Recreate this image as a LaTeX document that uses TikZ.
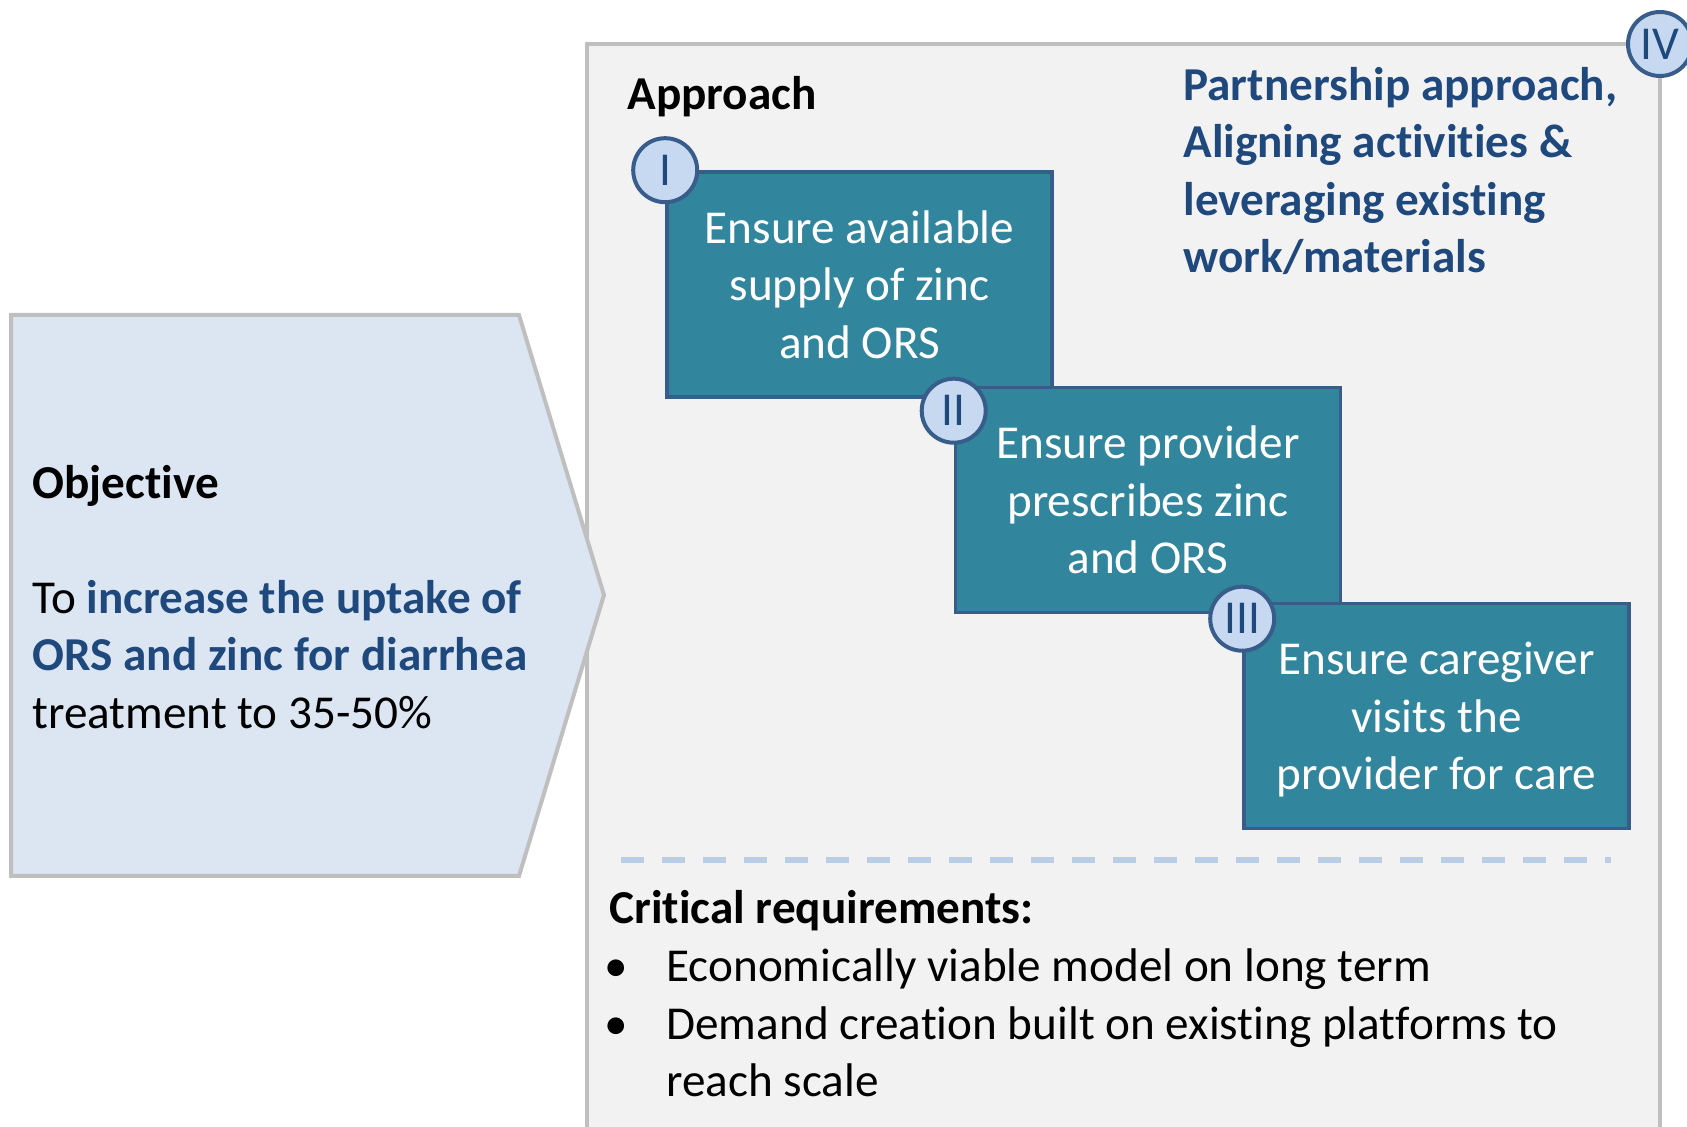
\documentclass[tikz,border=0pt]{standalone}
\usepackage{fontspec}
\setmainfont{Carlito}[Ligatures=NoCommon]
\usepackage{tikz}
\usetikzlibrary{positioning}
\definecolor{panelgray}{HTML}{F2F2F2}
\definecolor{framegray}{HTML}{BFBFBF}
\definecolor{goalfill}{HTML}{DCE6F2}
\definecolor{boxteal}{HTML}{31859C}
\definecolor{boxline}{HTML}{385D8A}
\definecolor{discfill}{HTML}{C6D9F1}
\definecolor{navytext}{HTML}{1F497D}
\definecolor{dashblue}{HTML}{B9CDE5}

\begin{document}
\begin{tikzpicture}[
  x=0.5pt, y=-0.5pt,
  font=\fontsize{23.6}{28.8}\selectfont,
  frame/.style={draw=framegray, line width=2pt},
  stepbox/.style={draw=boxline, line width=1.8pt, fill=boxteal, text=white, align=center,
    minimum width=192.5pt, minimum height=112.5pt, inner sep=0pt, text depth=0pt},
  numdisc/.style={circle, draw=boxline, line width=2pt, fill=discfill, text=navytext,
    minimum size=32pt, inner sep=0pt},
  plain/.style={inner sep=0pt, align=left}
]
\useasboundingbox (0,0) rectangle (1687,1127);

% approach panel, then the objective arrow over its left edge
\draw[frame, fill=panelgray] (587,44) rectangle (1660,1160);
\draw[frame, fill=goalfill] (11,315) -- (519,315) -- (604,595) -- (519,876) -- (11,876) -- cycle;

\node[plain, anchor=west] (goal) at (32,597) {\textbf{Objective}\\[28.8pt]
  To \textcolor{navytext}{\textbf{increase the uptake of}}\\
  \textcolor{navytext}{\textbf{ORS and zinc for diarrhea}}\\
  treatment to 35-50\%};

\node[plain, anchor=west] (approach) at (627,97) {\textbf{Approach}};
\node[plain, anchor=west, text=navytext, font=\fontsize{23.6}{28.8}\selectfont\bfseries] (partner) at (1183,171)
  {Partnership approach,\\Aligning activities \&\\leveraging existing\\work/materials};

% the three steps
\node[stepbox] (supply) at (859.5,284.5) {Ensure available\\supply of zinc\\and ORS};
\node[stepbox] (prescribe) at (1148,500) {Ensure provider\\prescribes zinc\\and ORS};
\node[stepbox] (visit) at (1436.5,716) {Ensure caregiver\\visits the\\provider for care};

\node[numdisc] (numI) at (supply.north west) {I};
\node[numdisc] (numII) at ([yshift=-12.5pt]prescribe.north west) {II};
\node[numdisc] (numIII) at ([yshift=-8.5pt]visit.north west) {III};
\node[numdisc] (numIV) at (1660,44) {IV};

\draw[dashblue, line width=3pt, dash pattern=on 11.5pt off 9pt] (621,860) -- (1611,860);

\node[plain, anchor=west] (crit) at (609,994) {\textbf{Critical requirements:}\\
  \makebox[28.5pt][l]{\hspace*{-2.5pt}\textbullet}Economically viable model on long term\\
  \makebox[28.5pt][l]{\hspace*{-2.5pt}\textbullet}Demand creation built on existing platforms to\\
  \hspace*{28.5pt}reach scale};
\end{tikzpicture}
\end{document}
